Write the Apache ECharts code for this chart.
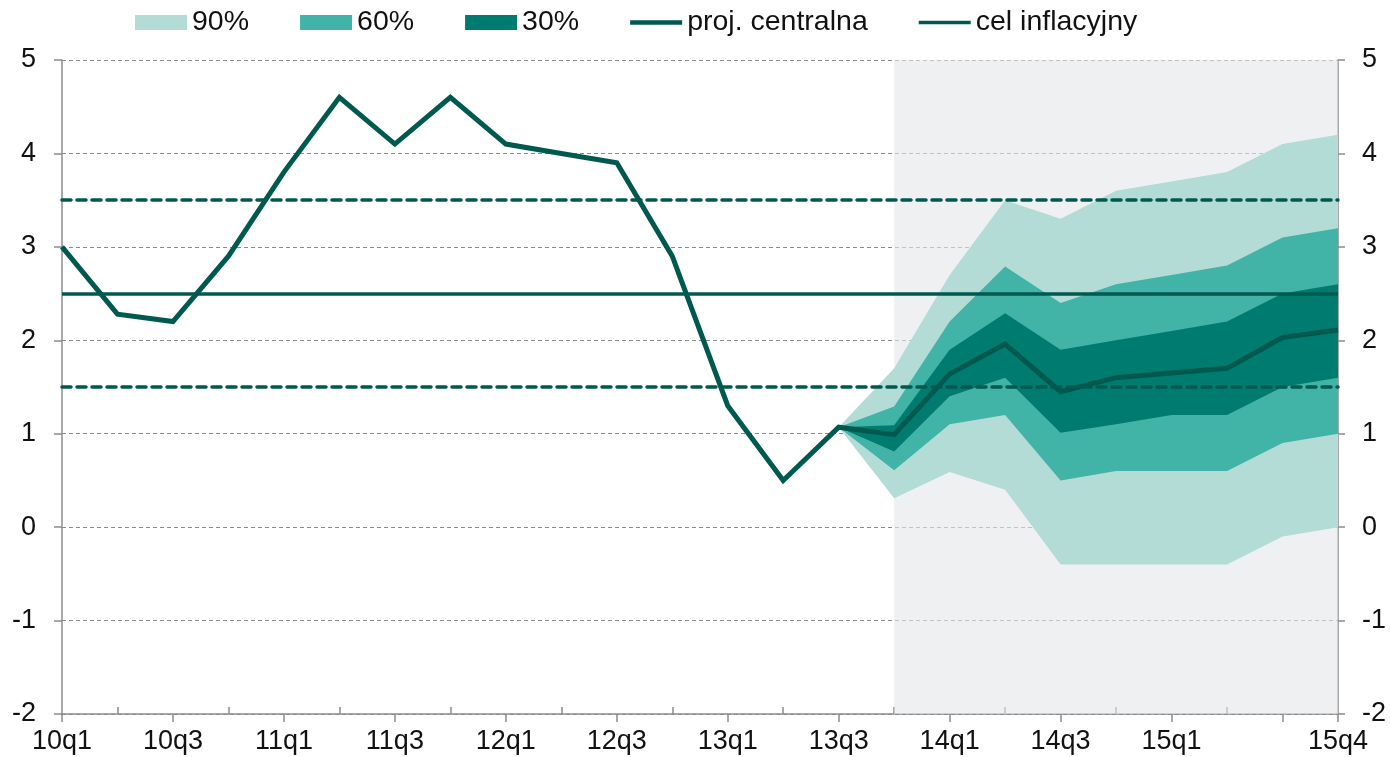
<!DOCTYPE html>
<html>
<head>
<meta charset="utf-8">
<script src="https://cdn.jsdelivr.net/npm/echarts@6/dist/echarts.min.js"></script>
<style>
  html, body { margin: 0; padding: 0; background: #ffffff; }
  #chart { width: 1390px; height: 757px; }
</style>
</head>
<body>
<div id="chart"></div>
<script>
// Quarters on the horizontal axis
const quarters = ['10q1','10q2','10q3','10q4','11q1','11q2','11q3','11q4',
                  '12q1','12q2','12q3','12q4','13q1','13q2','13q3','13q4',
                  '14q1','14q2','14q3','14q4','15q1','15q2','15q3','15q4'];

// Central path: history up to 13q3, projection afterwards
const central = [3.0, 2.28, 2.2, 2.9, 3.8, 4.6, 4.1, 4.6,
                 4.1, 4.0, 3.9, 2.9, 1.3, 0.5, 1.07, 0.99,
                 1.64, 1.96, 1.45, 1.6, 1.65, 1.7, 2.03, 2.11];

// Fan bounds (probability intervals), starting at 13q3
const lo90 = [null,null,null,null,null,null,null,null,null,null,null,null,null,null,
              1.07, 0.31, 0.59, 0.40, -0.40, -0.40, -0.40, -0.40, -0.10, 0.00];
const hi90 = [null,null,null,null,null,null,null,null,null,null,null,null,null,null,
              1.07, 1.70, 2.70, 3.50, 3.30, 3.60, 3.70, 3.80, 4.10, 4.20];
const lo60 = [null,null,null,null,null,null,null,null,null,null,null,null,null,null,
              1.07, 0.61, 1.10, 1.20, 0.50, 0.60, 0.60, 0.60, 0.90, 1.00];
const hi60 = [null,null,null,null,null,null,null,null,null,null,null,null,null,null,
              1.07, 1.29, 2.20, 2.79, 2.40, 2.60, 2.70, 2.80, 3.10, 3.20];
const lo30 = [null,null,null,null,null,null,null,null,null,null,null,null,null,null,
              1.07, 0.81, 1.40, 1.60, 1.01, 1.10, 1.20, 1.20, 1.50, 1.60];
const hi30 = [null,null,null,null,null,null,null,null,null,null,null,null,null,null,
              1.07, 1.09, 1.90, 2.29, 1.90, 2.00, 2.10, 2.20, 2.50, 2.60];

// Inflation target and tolerance band
const target = 2.5;
const toleranceBand = [1.5, 3.5];

// Projection period shading
const projectionStart = '13q4';
const projectionEnd = '15q4';

const C_LIGHT = '#b2dcd5';
const C_MID = '#41b3a7';
const C_DARK = '#007b6f';
const C_LINE = '#00594f';
const AXIS_GREY = '#8c8c8c';
const FONT = '"Liberation Sans", Arial, sans-serif';

function width(lo, hi) {
  return hi.map((v, i) => (v == null || lo[i] == null) ? null : +(v - lo[i]).toFixed(3));
}

function bandSeries(name, lo, hi, color, stackId) {
  return [
    {
      name: name + ' base', type: 'line', stack: stackId, stackStrategy: 'all',
      data: lo, symbol: 'none', silent: true,
      lineStyle: { width: 0, opacity: 0 }, z: 3
    },
    {
      name: name, type: 'line', stack: stackId, stackStrategy: 'all',
      data: width(lo, hi), symbol: 'none', silent: true, color: color,
      lineStyle: { width: 0, opacity: 0 },
      areaStyle: { color: color, opacity: 1 }, z: 3
    }
  ];
}

const chart = echarts.init(document.getElementById('chart'), null, { renderer: 'canvas' });

const labelShown = (i) => (i % 2 === 0 && i !== 22) || i === 23;

const option = {
  animation: false,
  textStyle: { fontFamily: FONT },
  grid: { left: 62, right: 52, top: 60, bottom: 43, containLabel: false },
  legend: {
    top: 8, left: 135, padding: 0,
    itemWidth: 52, itemHeight: 15, itemGap: 51,
    textStyle: { fontSize: 28.5, color: '#111', fontFamily: FONT },
    data: [
      { name: '90%', icon: 'rect', itemStyle: { color: C_LIGHT, borderWidth: 0 } },
      { name: '60%', icon: 'rect', itemStyle: { color: C_MID, borderWidth: 0 } },
      { name: '30%', icon: 'rect', itemStyle: { color: C_DARK, borderWidth: 0 } },
      { name: 'proj. centralna', icon: 'path://M0,0 L52,0 L52,4.5 L0,4.5 Z',
        itemStyle: { color: C_LINE, borderWidth: 0 } },
      { name: 'cel inflacyjny', icon: 'path://M0,0 L52,0 L52,3.5 L0,3.5 Z',
        itemStyle: { color: C_LINE, borderWidth: 0 } }
    ]
  },
  xAxis: [
    {
      type: 'category', data: quarters, boundaryGap: false, position: 'bottom',
      axisLine: { onZero: false, lineStyle: { color: AXIS_GREY, width: 1.5 } },
      axisTick: { show: true, length: 8, interval: (i) => i % 2 === 0 || i === 23,
                  lineStyle: { color: AXIS_GREY, width: 1.5 } },
      axisLabel: { interval: (i) => labelShown(i), fontSize: 27, color: '#111',
                   margin: 14, fontFamily: FONT },
      splitLine: { show: false }
    },
    {
      type: 'category', data: quarters, boundaryGap: false, position: 'bottom',
      axisLine: { show: false, onZero: false },
      axisTick: { show: true, inside: true, length: 7,
                  interval: (i) => i % 2 === 1 && i !== 23,
                  lineStyle: { color: AXIS_GREY, width: 1.5 } },
      axisLabel: { show: false },
      splitLine: { show: false }
    }
  ],
  yAxis: [
    {
      type: 'value', min: -2, max: 5, interval: 1, position: 'left',
      axisLine: { show: true, lineStyle: { color: AXIS_GREY, width: 1.5 } },
      axisTick: { show: true, length: 8, lineStyle: { color: AXIS_GREY, width: 1.5 } },
      axisLabel: { fontSize: 27, color: '#111', margin: 26, fontFamily: FONT },
      splitLine: { show: true, lineStyle: { color: '#8a8a8a', width: 1, type: [4, 3] } }
    },
    {
      type: 'value', min: -2, max: 5, interval: 1, position: 'right',
      axisLine: { show: true, lineStyle: { color: AXIS_GREY, width: 1.5 } },
      axisTick: { show: true, length: 7, lineStyle: { color: AXIS_GREY, width: 1.5 } },
      axisLabel: { fontSize: 27, color: '#111', margin: 24, fontFamily: FONT },
      splitLine: { show: false }
    }
  ],
  series: [
    // shading of the projection period
    {
      name: 'projection period', type: 'line', data: [], silent: true, z: 1,
      markArea: {
        silent: true,
        itemStyle: { color: 'rgba(228,230,233,0.6)' },
        data: [[{ xAxis: projectionStart }, { xAxis: projectionEnd }]]
      }
    },
    ...bandSeries('90%', lo90, hi90, C_LIGHT, 'fan90'),
    ...bandSeries('60%', lo60, hi60, C_MID, 'fan60'),
    ...bandSeries('30%', lo30, hi30, C_DARK, 'fan30'),
    {
      name: 'proj. centralna', type: 'line', data: central, symbol: 'none', z: 5,
      color: C_LINE,
      lineStyle: { color: C_LINE, width: 5, join: 'miter' }
    },
    {
      name: 'cel inflacyjny', type: 'line', data: [], symbol: 'none', z: 6,
      color: C_LINE,
      lineStyle: { color: C_LINE, width: 3.5 },
      markLine: {
        silent: true, symbol: ['none', 'none'], label: { show: false },
        data: [
          { yAxis: target, lineStyle: { color: C_LINE, width: 3.5, type: 'solid' } },
          { yAxis: toleranceBand[0], lineStyle: { color: C_LINE, width: 3.5, type: [9, 6], cap: 'round' } },
          { yAxis: toleranceBand[1], lineStyle: { color: C_LINE, width: 3.5, type: [9, 6], cap: 'round' } }
        ]
      }
    }
  ]
};

chart.setOption(option);
</script>
</body>
</html>
